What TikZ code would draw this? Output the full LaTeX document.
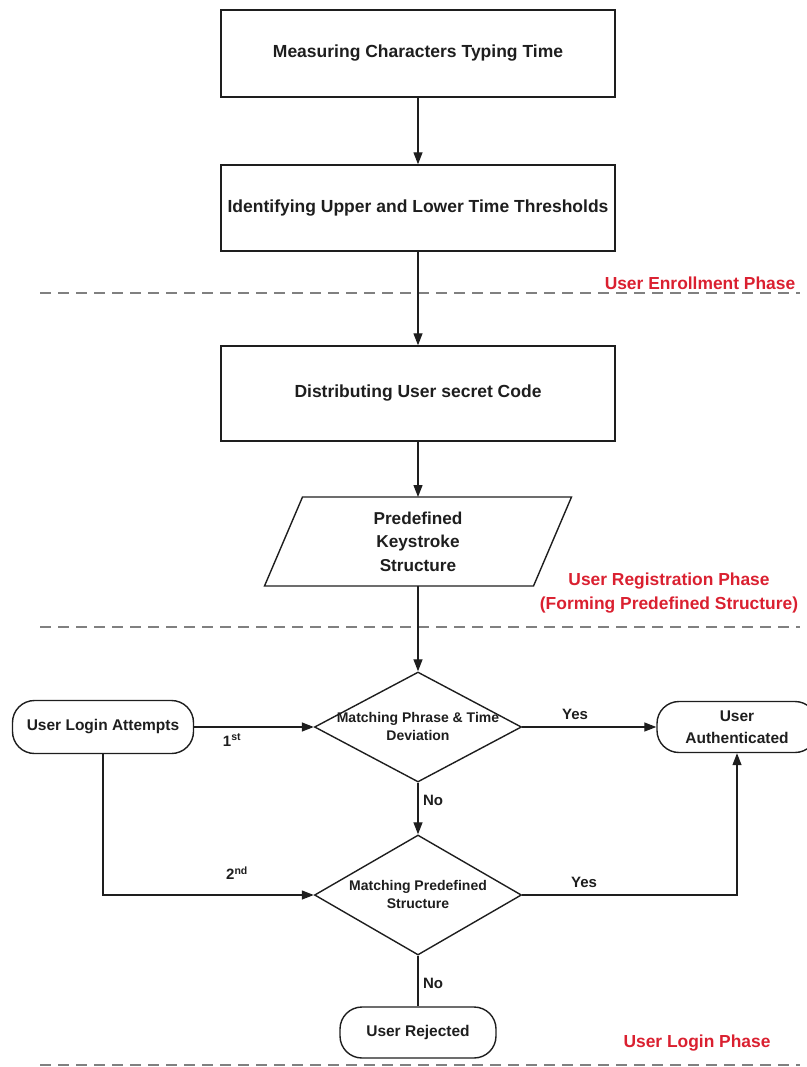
\documentclass[tikz,border=0pt]{standalone}
\usepackage{fontspec}
\setmainfont{Liberation Sans}
\usetikzlibrary{arrows.meta,shapes.geometric}
\definecolor{ink}{RGB}{30,30,30}
\definecolor{phasered}{RGB}{218,32,48}
\definecolor{dashgray}{RGB}{128,128,128}
\begin{document}
\begin{tikzpicture}[x=1pt,y=-1pt,
  procbox/.style={draw=ink, line width=1.4pt, minimum width=394pt, align=center, inner sep=0pt,
    font=\fontsize{17.5}{23.5}\selectfont\bfseries, text=ink},
  textbox/.style={align=center, inner sep=0pt, outer sep=0pt,
    font=\fontsize{17.2}{23.5}\selectfont\bfseries, text=ink},
  term/.style={draw=ink, line width=1.4pt, rounded corners=22pt, align=center, inner sep=0pt,
    font=\fontsize{15.5}{22}\selectfont\bfseries, text=ink},
  decision/.style={diamond, draw=ink, line width=1.4pt, inner sep=0pt, minimum width=207pt},
  dtext/.style={align=center, inner sep=0pt, font=\fontsize{14}{18}\selectfont\bfseries, text=ink},
  lbl/.style={inner sep=0pt, font=\fontsize{15}{18}\selectfont\bfseries, text=ink},
  phase/.style={align=center, inner sep=0pt, text=phasered, font=\fontsize{17.4}{24}\selectfont\bfseries},
  phaseline/.style={draw=dashgray, line width=2.5pt, dash pattern=on 11pt off 7pt},
  arr/.style={draw=ink, line width=1.3pt, -{Triangle[length=12pt,width=9pt]}},
  plain/.style={draw=ink, line width=1.3pt}
]
\useasboundingbox (0,0) rectangle (806,1067);

% phase separators
\coordinate (p1a) at (40,293);  \coordinate (p1b) at (800,293);
\coordinate (p2a) at (40,627);  \coordinate (p2b) at (800,627);
\coordinate (p3a) at (40,1065); \coordinate (p3b) at (800,1065);
\draw[phaseline] (p1a) -- (p1b);
\draw[phaseline] (p2a) -- (p2b);
\draw[phaseline] (p3a) -- (p3b);

% phase labels
\node[phase] (ph1) at (700,283) {User Enrollment Phase};
\node[phase] (ph2) at (669,593) {User Registration Phase\\(Forming Predefined Structure)};
\node[phase] (ph3) at (697,1043) {User Login Phase};

% process boxes
\node[procbox, minimum height=87pt] (b1) at (418,53.5) {Measuring Characters Typing Time};
\node[procbox, minimum height=86pt] (b2) at (418,208) {Identifying Upper and Lower Time Thresholds};
\node[procbox, minimum height=95pt] (b3) at (418,393.5) {Distributing User secret Code};

% parallelogram
\node[textbox, minimum width=269pt, minimum height=89pt] (pk) at (418,541.5) {Predefined\\Keystroke\\Structure};
\draw[draw=ink, line width=1.4pt] ([xshift=19pt]pk.north west) -- ([xshift=19pt]pk.north east)
  -- ([xshift=-19pt]pk.south east) -- ([xshift=-19pt]pk.south west) -- cycle;

% decisions
\node[decision, minimum height=110pt] (d1) at (418,727) {};
\node[dtext] (d1t) at (418,726) {Matching Phrase \& Time\\Deviation};
\node[decision, minimum height=120pt] (d2) at (418,895) {};
\node[dtext] (d2t) at (418,894) {Matching Predefined\\Structure};

% terminals
\node[term, minimum width=181pt, minimum height=53pt] (ula) at (103,727) {User Login Attempts};
\node[term, minimum width=160pt, minimum height=51pt] (ua) at (737,727) {User\\Authenticated};
\node[term, minimum width=156pt, minimum height=51pt] (ur) at (418,1032.5) {User Rejected};

% connectors
\draw[arr] (b1.south) -- (b2.north);
\draw[arr] (b2.south) -- (b3.north);
\draw[arr] (b3.south) -- (pk.north);
\draw[arr] (pk.south) -- (d1.north);
\draw[arr] (d1.south) -- (d2.north);
\draw[plain] (d2.south) -- (ur.north);
\draw[arr] (ula.east) -- (d1.west);
\draw[arr] (ula.south) |- (d2.west);
\draw[arr] (d1.east) -- (ua.west);
\draw[arr] (d2.east) -| (ua.south);

% connector labels
\node[lbl] (l1) at (232,740) {1\textsuperscript{st}};
\node[lbl] (l2) at (237,873) {2\textsuperscript{nd}};
\node[lbl] (y1) at (575,714) {Yes};
\node[lbl] (y2) at (584,882) {Yes};
\node[lbl] (n1) at (433,800) {No};
\node[lbl] (n2) at (433,983) {No};
\end{tikzpicture}
\end{document}
